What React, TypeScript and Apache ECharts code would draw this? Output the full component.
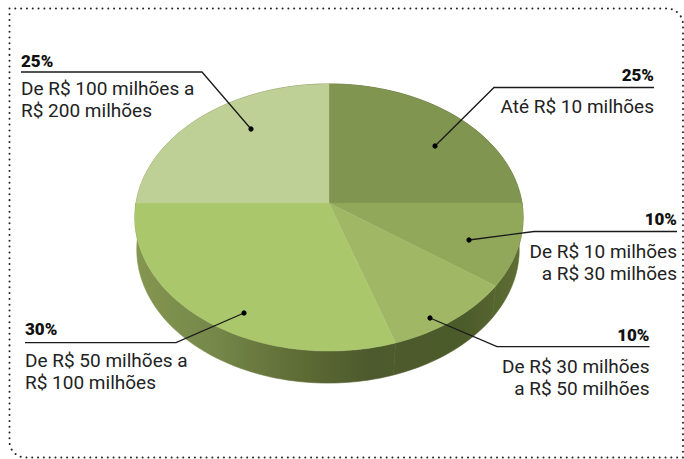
import React, { useEffect, useRef } from "react";
import * as echarts from "echarts";

const shares = [25, 10, 10, 30, 25];
const shareLabels = ["25%", "10%", "10%", "30%", "25%"];
const rangeLabels = [
  ["Até R$ 10 milhões"],
  ["De R$ 10 milhões", "a R$ 30 milhões"],
  ["De R$ 30 milhões", "a R$ 50 milhões"],
  ["De R$ 50 milhões a", "R$ 100 milhões"],
  ["De R$ 100 milhões a", "R$ 200 milhões"],
];
const topColors = ["#80954f", "#91a75a", "#a0b866", "#aac76c", "#bfd096"];

const CX = 329, CY = 203, A = 193, B = 132, K = 0.1086, DEPTH = 32;
const FONT = "Roboto, sans-serif";

function rim(share: number): [number, number] {
  const t = (share / 100) * Math.PI * 2;
  const u = Math.sin(t), v = -Math.cos(t);
  const d = 1 - K * v;
  return [CX + (A * u) / d, CY + (B * v) / d];
}
function arc(s: number, e: number): [number, number][] {
  const pts: [number, number][] = [];
  const n = Math.max(4, Math.ceil((e - s) * 2));
  for (let i = 0; i <= n; i++) pts.push(rim(s + ((e - s) * i) / n));
  return pts;
}

const ranges = shares.map((v, i) => {
  const s = shares.slice(0, i).reduce((a, b) => a + b, 0);
  return [s, s + v, i];
});

const layout = [
  { side: "r", tx: 654, pctY: 74.5, lineY: 87.5, x0: 654, x1: 494, dot: [435, 146], textY: [106.5] },
  { side: "r", tx: 677, pctY: 219, lineY: 231.5, x0: 677, x1: 534, dot: [469, 240], textY: [251, 273.5] },
  { side: "r", tx: 649.5, pctY: 335, lineY: 346.7, x0: 649.5, x1: 497, dot: [430, 318], textY: [366, 388.5] },
  { side: "l", tx: 25, pctY: 328.5, lineY: 342.7, x0: 25, x1: 176, dot: [244, 313], textY: [360.5, 382.5] },
  { side: "l", tx: 21, pctY: 61, lineY: 72, x0: 21, x1: 202, dot: [251, 129], textY: [88.5, 110.5] },
];

function annotations() {
  const out: any[] = [];
  layout.forEach((l, i) => {
    const align = l.side === "r" ? "right" : "left";
    out.push({
      type: "polyline",
      shape: { points: [[l.x0, l.lineY], [l.x1, l.lineY], l.dot] },
      style: { stroke: "#1a1a1a", lineWidth: 1.3, fill: "none" },
      z: 10,
    });
    out.push({
      type: "circle",
      shape: { cx: l.dot[0], cy: l.dot[1], r: 2.6 },
      style: { fill: "#000" },
      z: 11,
    });
    out.push({
      type: "text",
      x: l.tx,
      y: l.pctY,
      style: { text: shareLabels[i], font: `900 17px ${FONT}`, fill: "#111", align, verticalAlign: "middle" },
      z: 11,
    });
    rangeLabels[i].forEach((t, j) => {
      out.push({
        type: "text",
        x: l.tx,
        y: l.textY[j],
        style: { text: t, font: `19px ${FONT}`, fill: "#222", align, verticalAlign: "middle" },
        z: 11,
      });
    });
  });
  return out;
}

const wallFill = {
  type: "linear",
  global: true,
  x: 136,
  y: 0,
  x2: 523,
  y2: 0,
  colorStops: [
    { offset: 0, color: "#84964f" },
    { offset: 0.2, color: "#76884a" },
    { offset: 0.42, color: "#5e6c35" },
    { offset: 0.6, color: "#4d5a2d" },
    { offset: 0.85, color: "#4c5b2a" },
    { offset: 1, color: "#5f6f34" },
  ],
};

export default function App() {
  const ref = useRef<HTMLDivElement>(null);
  useEffect(() => {
    document.body.style.margin = "0";
    document.body.style.background = "#fff";
    const chart = echarts.init(ref.current!, undefined, { renderer: "svg" });
    chart.setOption({
      animation: false,
      backgroundColor: "#ffffff",
      graphic: {
        elements: [
          {
            type: "rect",
            shape: { x: 9.5, y: 8.5, width: 673.5, height: 449, r: [0, 16, 0, 16] },
            style: { fill: "none", stroke: "#222", lineWidth: 2, lineDash: [0.01, 5.8], lineCap: "round" },
            z: 1,
          },
          ...annotations(),
        ],
      },
      series: [
        {
          type: "custom",
          coordinateSystem: "none",
          z: 2,
          data: ranges,
          renderItem: (_p: any, api: any) => {
            const top = arc(api.value(0), api.value(1));
            const low = top.map(([x, y]) => [CX - 1 + (x - CX) * 0.985, y + DEPTH]).reverse();
            return {
              type: "polygon",
              shape: { points: [...top, ...low] },
              style: { fill: wallFill, stroke: wallFill, lineWidth: 0.6 },
            };
          },
        },
        {
          type: "custom",
          coordinateSystem: "none",
          z: 3,
          data: ranges,
          renderItem: (_p: any, api: any) => {
            const c = topColors[api.value(2)];
            return {
              type: "polygon",
              shape: { points: [[CX, CY], ...arc(api.value(0), api.value(1))] },
              style: { fill: c, stroke: c, lineWidth: 0.4 },
            };
          },
        },
      ],
    });
    return () => chart.dispose();
  }, []);
  return <div ref={ref} style={{ position: "absolute", left: 0, top: 0, width: 684, height: 459 }} />;
}
